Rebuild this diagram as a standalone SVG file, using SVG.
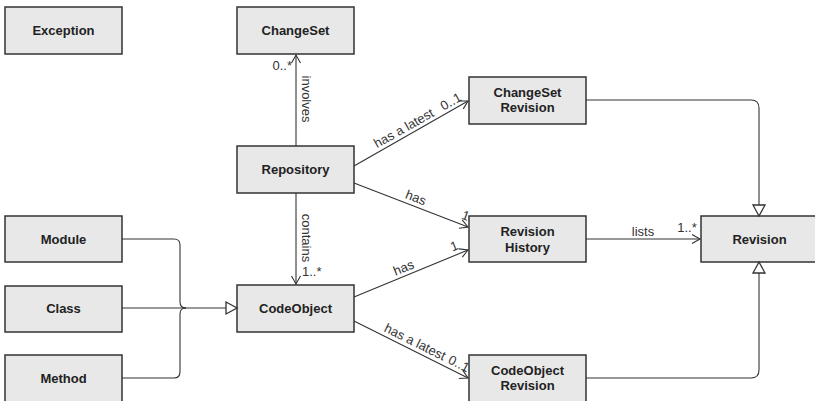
<svg xmlns="http://www.w3.org/2000/svg" width="815" height="401" viewBox="0 0 815 401">
<style>
.box{fill:#e8e8e8;stroke:#333;stroke-width:1.5}
.nt{font-family:"Liberation Sans",Arial,sans-serif;font-size:13px;font-weight:bold;fill:#222;text-anchor:middle}
.lb{font-family:"Liberation Sans",Arial,sans-serif;font-size:13px;fill:#333}
.ln{fill:none;stroke:#333;stroke-width:1.1}
</style>
<defs>
<marker id="open" markerWidth="12" markerHeight="12" refX="10" refY="6" orient="auto" markerUnits="userSpaceOnUse"><path d="M2,1.5 L10,6 L2,10.5" fill="none" stroke="#333" stroke-width="1.1"/></marker>
<marker id="tri" markerWidth="15" markerHeight="15" refX="13" refY="7" orient="auto" markerUnits="userSpaceOnUse"><path d="M2,1 L13,7 L2,13 Z" fill="#fff" stroke="#333" stroke-width="1.3"/></marker>
</defs>
<rect width="815" height="401" fill="#fff"/>
<g id="exception"><rect class="box" x="5" y="7" width="117" height="47"/><text class="nt" x="63.5" y="35">Exception</text></g>
<g id="changeset"><rect class="box" x="237" y="7" width="117" height="47"/><text class="nt" x="295.5" y="35">ChangeSet</text></g>
<g id="repository"><rect class="box" x="237" y="146" width="117" height="47"/><text class="nt" x="295.5" y="174">Repository</text></g>
<g id="changeset-revision"><rect class="box" x="469" y="77" width="117" height="47"/><text class="nt" x="527.5" y="96.5">ChangeSet</text><text class="nt" x="527.5" y="111.5">Revision</text></g>
<g id="revision-history"><rect class="box" x="469" y="216" width="117" height="46"/><text class="nt" x="527.5" y="235.5">Revision</text><text class="nt" x="527.5" y="251.5">History</text></g>
<g id="revision"><rect class="box" x="701" y="216" width="117" height="46"/><text class="nt" x="759.5" y="243.5">Revision</text></g>
<g id="codeobject"><rect class="box" x="237" y="285" width="117" height="47"/><text class="nt" x="295.5" y="313">CodeObject</text></g>
<g id="codeobject-revision"><rect class="box" x="469" y="355" width="117" height="48"/><text class="nt" x="527.5" y="374.5">CodeObject</text><text class="nt" x="527.5" y="389.5">Revision</text></g>
<g id="module"><rect class="box" x="5" y="216" width="117" height="46"/><text class="nt" x="63.5" y="243.5">Module</text></g>
<g id="class"><rect class="box" x="5" y="286" width="117" height="46"/><text class="nt" x="63.5" y="313">Class</text></g>
<g id="method"><rect class="box" x="5" y="355" width="117" height="48"/><text class="nt" x="63.5" y="383">Method</text></g>
<g id="connectors">
<path class="ln" d="M296,146 V55" marker-end="url(#open)"/>
<path class="ln" d="M296,193 V284" marker-end="url(#open)"/>
<path class="ln" d="M354,166 L468,101" marker-end="url(#open)"/>
<path class="ln" d="M354,183 L468,227" marker-end="url(#open)"/>
<path class="ln" d="M354,297 L468,250" marker-end="url(#open)"/>
<path class="ln" d="M354,321 L468,378" marker-end="url(#open)"/>
<path class="ln" d="M586,239 H700" marker-end="url(#open)"/>
<path class="ln" d="M586,100 H751 Q759,100 759,108 V216" marker-end="url(#tri)"/>
<path class="ln" d="M586,378 H751 Q759,378 759,370 V262" marker-end="url(#tri)"/>
<path class="ln" d="M122,239 H174 Q180,239 180,245 V302 Q180,308 186,308"/>
<path class="ln" d="M122,378 H174 Q180,378 180,372 V314 Q180,308 186,308"/>
<path class="ln" d="M122,308 H237" marker-end="url(#tri)"/>
<text class="lb" text-anchor="end" x="292" y="70">0..*</text>
<text class="lb" text-anchor="middle" transform="translate(302,99) rotate(90)">involves</text>
<text class="lb" text-anchor="middle" transform="translate(302,238) rotate(90)">contains</text>
<text class="lb" x="302" y="276">1..*</text>
<g transform="translate(354,166) rotate(-29.5)">
<text class="lb" text-anchor="middle" x="62" y="-4">has a latest</text>
<text class="lb" text-anchor="middle" x="116" y="-4">0..1</text>
</g>
<g transform="translate(354,183) rotate(20.9)">
<text class="lb" text-anchor="middle" x="63" y="-4">has</text>
<text class="lb" text-anchor="middle" x="116" y="-5">1</text>
</g>
<g transform="translate(354,297) rotate(-22.2)">
<text class="lb" text-anchor="middle" x="57" y="-4">has</text>
<text class="lb" text-anchor="middle" x="112" y="-5">1</text>
</g>
<g transform="translate(354,321) rotate(26.4)">
<text class="lb" text-anchor="middle" x="64" y="-4">has a latest</text>
<text class="lb" text-anchor="middle" x="113" y="-4">0..1</text>
</g>
<text class="lb" text-anchor="middle" x="643" y="236">lists</text>
<text class="lb" text-anchor="middle" x="687" y="232">1..*</text>
</g>
</svg>
